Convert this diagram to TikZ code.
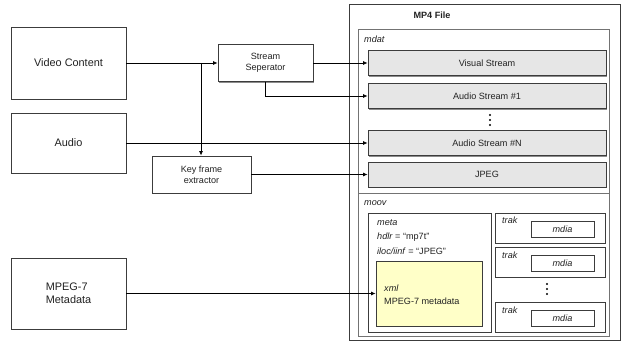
\documentclass[tikz,border=0pt]{standalone}
\usepackage{fontspec}
\setmainfont{Liberation Sans}
\usetikzlibrary{arrows.meta,shadows}
\definecolor{bd}{HTML}{3C3C3C}
\definecolor{txt}{HTML}{222222}
\definecolor{rowfill}{HTML}{E6E6E6}
\definecolor{xmlfill}{HTML}{FFFFC8}
\newcommand\fbig{\fontsize{10.9}{13.3}\selectfont}
\newcommand\fsmall{\fontsize{9.1}{11}\selectfont}
\begin{document}
\begin{tikzpicture}[x=1pt,y=-1pt,
  sh/.style={drop shadow={shadow xshift=1.3pt,shadow yshift=-1.3pt,fill=black!45,opacity=1}},
  box/.style={draw=bd,line width=0.8pt,fill=white,inner sep=0pt,sh,text=txt},
  row/.style={box,fill=rowfill,minimum width=238pt,minimum height=25pt,font=\fsmall},
  cont/.style={draw=black!55,line width=0.7pt,inner sep=0pt},
  trakbox/.style={box,minimum width=110pt,minimum height=30pt},
  mdiabox/.style={box,minimum width=63pt,minimum height=16pt,font=\fsmall\itshape},
  lbl/.style={anchor=west,inner sep=0pt,text=txt,font=\fsmall},
  conn/.style={line width=0.8pt,-{Latex[length=4.5pt,width=4pt]}},
  dot/.style={fill=black}]
\useasboundingbox[fill=white] (0,0) rectangle (626,342);

% left boxes
\node[box,minimum width=115pt,minimum height=72pt,font=\fbig] (vc) at (68.5,63) {Video Content};
\node[box,minimum width=115pt,minimum height=60pt,font=\fbig] (au) at (68.5,143) {Audio};
\node[box,minimum width=115pt,minimum height=71pt,font=\fbig,align=left] (mp7) at (68.5,293.5) {MPEG-7\\Metadata};
\node[box,minimum width=95pt,minimum height=37pt,font=\fsmall,align=center] (ss) at (265.5,63) {Stream\\Seperator};
\node[box,minimum width=99pt,minimum height=37pt,font=\fsmall,align=center] (kf) at (201.5,174.5) {Key frame\\extractor};

% MP4 file
\node[box,minimum width=271pt,minimum height=336pt] (mp4) at (484.5,172) {};
\node[inner sep=0pt,font=\fsmall\bfseries,text=txt] (mp4t) at (432,15) {MP4 File};
\node[cont,minimum width=251pt,minimum height=164pt] (mdat) at (483.5,111) {};
\node[cont,minimum width=251pt,minimum height=143pt] (moov) at (483.5,264.5) {};
\node[lbl,font=\fsmall\itshape] (mdatl) at (364,39) {mdat};
\node[lbl,font=\fsmall\itshape] (moovl) at (364,203) {moov};

\node[row] (vs) at (487,63) {Visual Stream};
\node[row] (as1) at (487,96) {Audio Stream \#1};
\node[row] (asn) at (487,143) {Audio Stream \#N};
\node[row] (jpeg) at (487,174.5) {JPEG};
\fill[dot] (490,115) circle (1.2pt) (490,120) circle (1.2pt) (490,125) circle (1.2pt);

% meta
\node[box,minimum width=123pt,minimum height=119pt] (meta) at (429.5,272.5) {};
\node[lbl,font=\fsmall\itshape] (metal) at (377,223) {meta};
\node[lbl] (hdlr) at (377,237) {\textit{hdlr} = “mp7t”};
\node[lbl] (iloc) at (377,251) {\textit{iloc/iinf} = “JPEG”};
\node[box,fill=xmlfill,minimum width=106pt,minimum height=65pt] (xml) at (429,293.5) {};
\node[lbl,align=left,font=\fontsize{9.1}{13}\selectfont] (xmlt) at (384,294.5) {\textit{xml}\\MPEG-7 metadata};

% trak boxes
\node[trakbox] (t1) at (550,228) {};
\node[trakbox] (t2) at (550,262) {};
\node[trakbox] (t3) at (550,317) {};
\node[lbl,font=\fsmall\itshape] (t1l) at (502,220) {trak};
\node[lbl,font=\fsmall\itshape] (t2l) at (502,255) {trak};
\node[lbl,font=\fsmall\itshape] (t3l) at (502,310) {trak};
\node[mdiabox] (m1) at (562.5,229) {mdia};
\node[mdiabox] (m2) at (562.5,263) {mdia};
\node[mdiabox] (m3) at (562.5,318) {mdia};
\fill[dot] (547,284) circle (1.2pt) (547,289) circle (1.2pt) (547,294) circle (1.2pt);

% connectors
\coordinate (j) at (201,63);
\draw[conn] (vc.east) -- (ss.west);
\draw[conn] (j) -- (j |- kf.north);
\draw[conn] (ss.east) -- (ss.east -| vs.west);
\draw[conn] (ss.south) |- (as1.west);
\draw[conn] (au.east) -- (au.east -| asn.west);
\draw[conn] (kf.east) -- (kf.east -| jpeg.west);
\draw[conn] (mp7.east) -- (mp7.east -| xml.west);
\end{tikzpicture}
\end{document}
